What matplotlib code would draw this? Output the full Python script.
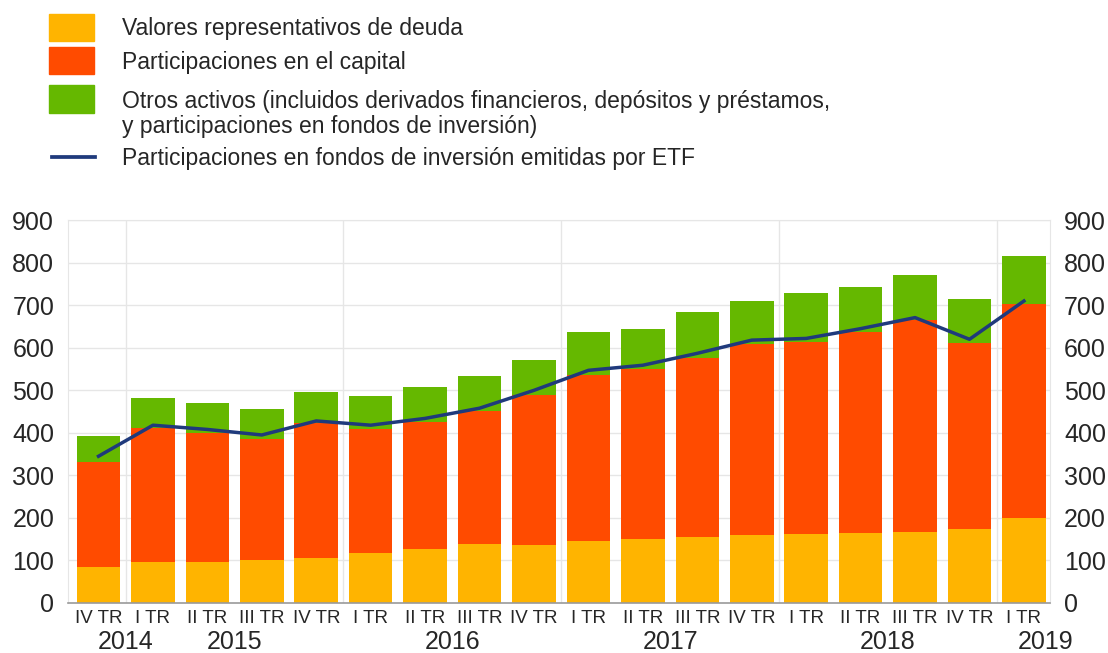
import matplotlib.pyplot as plt
from matplotlib.patches import Rectangle
from matplotlib.lines import Line2D
from matplotlib.transforms import blended_transform_factory
import numpy as np

plt.rcParams['font.family'] = ['Liberation Sans', 'DejaVu Sans']

#--- Data (mm de euros)
quarters = ["IV TR", "I TR", "II TR", "III TR", "IV TR", "I TR", "II TR", "III TR", "IV TR",
            "I TR", "II TR", "III TR", "IV TR", "I TR", "II TR", "III TR", "IV TR", "I TR"]
years = ["2014", "2015", "2016", "2017", "2018", "2019"]
year_pos = [0.5, 2.5, 6.5, 10.5, 14.5, 17.4]
year_sep = [0.5, 4.5, 8.5, 12.5, 16.5]

deuda = [85, 97, 96, 101, 106, 117, 127, 139, 136, 146, 150, 155, 160, 162, 164, 168, 174, 199]
capital = [247, 315, 303, 284, 316, 293, 298, 312, 353, 390, 399, 422, 449, 451, 472, 497, 438, 505]
otros = [61, 70, 72, 70, 75, 76, 82, 82, 82, 100, 96, 108, 101, 116, 106, 106, 102, 111]
etf = [345, 418, 408, 395, 428, 418, 434, 458, 500, 547, 559, 587, 618, 622, 645, 671, 620, 710]

labels = ["Valores representativos de deuda",
          "Participaciones en el capital",
          "Otros activos (incluidos derivados financieros, depósitos y préstamos,\ny participaciones en fondos de inversión)",
          "Participaciones en fondos de inversión emitidas por ETF"]

c_deuda = "#FFB400"
c_capital = "#FF4B00"
c_otros = "#65B800"
c_etf = "#1F3A7C"
grid_c = "#E6E6E6"
txt_c = "#262626"

x = np.arange(len(quarters))
deuda = np.array(deuda)
capital = np.array(capital)
otros = np.array(otros)

fig = plt.figure(figsize=(11.08, 6.53), dpi=100)
ax = fig.add_axes([0.0614, 0.0766, 0.8863, 0.5862])

ax.bar(x, deuda, width=0.8, color=c_deuda, zorder=2)
ax.bar(x, capital, width=0.8, bottom=deuda, color=c_capital, zorder=2)
ax.bar(x, otros, width=0.8, bottom=deuda + capital, color=c_otros, zorder=2)
ax.plot(x, etf, color=c_etf, linewidth=2.5, zorder=3)

ax.set_xlim(-0.56, 17.48)
ax.set_ylim(0, 900)
ax.set_yticks(range(0, 901, 100))
ax.yaxis.grid(True, color=grid_c, linewidth=1, zorder=0)
for s in year_sep:
    ax.axvline(s, color=grid_c, linewidth=1, zorder=0)

for side in ["top", "left", "right"]:
    ax.spines[side].set_color(grid_c)
ax.spines["bottom"].set_color("#9A9A9A")
ax.spines["bottom"].set_linewidth(1.2)

ax.tick_params(axis="y", length=0, labelsize=18, pad=10, colors=txt_c,
               labelright=True, right=False)
ax.set_xticks(x)
ax.set_xticklabels(quarters, fontsize=13.5, color=txt_c)
ax.tick_params(axis="x", length=0, pad=5)

trans = blended_transform_factory(ax.transData, ax.transAxes)
for yr, p in zip(years, year_pos):
    ax.text(p, -0.102, yr, transform=trans, ha="center", va="center",
            fontsize=18, color=txt_c)

#--- Legend drawn by hand in pixel positions
H = 653.0
def fy(py):
    return 1 - py / H

swatches = [(14, 41, c_deuda), (47, 74, c_capital), (85, 113, c_otros)]
for (y0, y1, c) in swatches:
    fig.add_artist(Rectangle((49 / 1108, fy(y1)), 45 / 1108, (y1 - y0) / H,
                             transform=fig.transFigure, color=c))
fig.add_artist(Line2D([52 / 1108, 95 / 1108], [fy(157), fy(157)],
                      transform=fig.transFigure, color=c_etf, linewidth=2.7))

text_y = [29, 63, 114, 159]
for lab, ty in zip(labels, text_y):
    fig.text(122 / 1108, fy(ty), lab, ha="left", va="center", fontsize=16.5,
             color=txt_c, linespacing=1.1)

fig.savefig("out.png", dpi=100)
plt.close()
